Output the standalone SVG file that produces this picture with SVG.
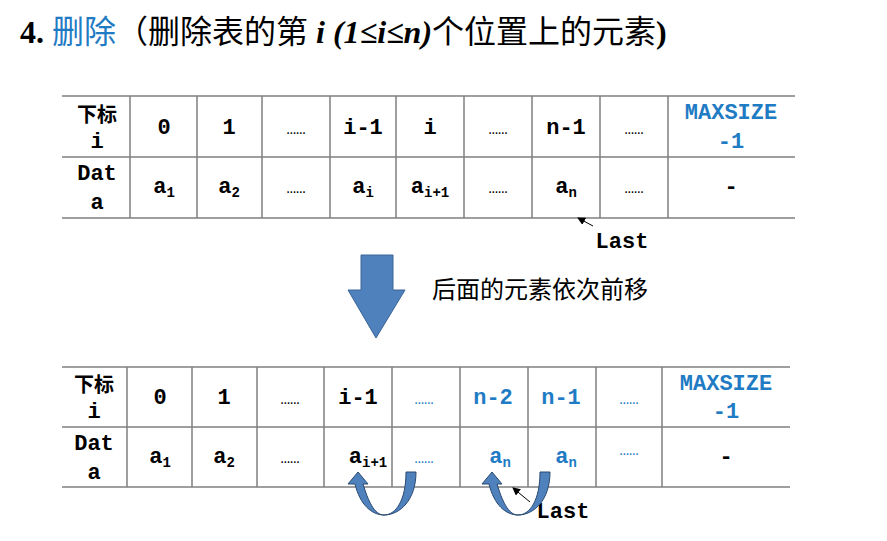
<svg xmlns="http://www.w3.org/2000/svg" width="887" height="541" viewBox="0 0 887 541">
<style>
.ln{stroke:#808080;stroke-width:1.5;fill:none}
.t{font-family:"Liberation Mono",monospace;font-weight:bold;font-size:22px;text-anchor:middle;fill:#000}
.b{fill:#1F7CC4}
.s{font-size:14px}
.d{font-size:16px;font-weight:normal}
.cj{font-family:"Noto Sans CJK SC",sans-serif;font-weight:bold;font-size:20px;text-anchor:middle}
.u{fill:#4F81BD;stroke:#2b4a70;stroke-width:1}
</style>
<defs><marker id="ah" markerWidth="8" markerHeight="8" refX="7" refY="4" orient="auto"><path d="M0,0L8,4L0,8z" fill="#000"/></marker></defs>
<g id="title"><text x="20" y="43" font-family="Liberation Serif,'Noto Sans CJK SC',serif" font-size="32" font-weight="bold">4. <tspan fill="#1F7CC4" font-weight="normal" font-family="'Noto Sans CJK SC',sans-serif">删除</tspan><tspan font-family="'Noto Sans CJK SC',sans-serif" font-weight="normal">（删除表的第</tspan><tspan font-style="italic"> i (1≤i≤n)</tspan><tspan font-family="'Noto Sans CJK SC',sans-serif" font-weight="normal">个位置上的元素</tspan>)</text></g>
<g id="table1">
<path class="ln" d="M62,96H795M62,157H795M62,218H795M130,96V218M197,96V218M262,96V218M330,96V218M396,96V218M464,96V218M532,96V218M600,96V218M668,96V218"/>
<text class="cj" x="97" y="122">下标</text><text class="t" x="97" y="148">i</text>
<text class="t" x="164" y="134">0</text><text class="t" x="229" y="134">1</text><text class="t d" x="296" y="134">……</text><text class="t" x="363" y="134">i-1</text><text class="t" x="430" y="134">i</text><text class="t d" x="498" y="134">……</text><text class="t" x="566" y="134">n-1</text><text class="t d" x="634" y="134">……</text>
<text class="t b" x="731" y="119">MAXSIZE</text><text class="t b" x="731" y="148">-1</text>
<text class="t" x="97" y="180">Dat</text><text class="t" x="97" y="209">a</text>
<text class="t" x="164" y="193">a<tspan class="s" dy="4">1</tspan></text><text class="t" x="229" y="193">a<tspan class="s" dy="4">2</tspan></text><text class="t d" x="296" y="193">……</text><text class="t" x="363" y="193">a<tspan class="s" dy="4">i</tspan></text><text class="t" x="430" y="193">a<tspan class="s" dy="4">i+1</tspan></text><text class="t d" x="498" y="193">……</text><text class="t" x="566" y="193">a<tspan class="s" dy="4">n</tspan></text><text class="t d" x="634" y="193">……</text><text class="t" x="731" y="193">-</text>
<text class="t" x="622" y="248" font-size="20">Last</text>
</g>
<g id="arrow"><path d="M361,255H393V290H405L376,338L348,290H361Z" fill="#4F81BD" stroke="#3a6496"/>
<text x="432" y="298" font-family="'Noto Sans CJK SC',sans-serif" font-size="24">后面的元素依次前移</text></g>
<g id="table2">
<path class="ln" d="M62,367H790M62,427H790M62,487H790M127,367V487M192,367V487M257,367V487M324,367V487M392,367V487M460,367V487M528,367V487M596,367V487M662,367V487"/>
<text class="cj" x="94" y="392">下标</text><text class="t" x="94" y="418">i</text>
<text class="t" x="160" y="404">0</text><text class="t" x="224" y="404">1</text><text class="t d" x="290" y="404">……</text><text class="t" x="358" y="404">i-1</text><text class="t b d" x="424" y="404">……</text><text class="t b" x="493" y="404">n-2</text><text class="t b" x="561" y="404">n-1</text><text class="t b d" x="629" y="404">……</text>
<text class="t b" x="726" y="390">MAXSIZE</text><text class="t b" x="726" y="418">-1</text>
<text class="t" x="94" y="450">Dat</text><text class="t" x="94" y="479">a</text>
<text class="t" x="160" y="463">a<tspan class="s" dy="4">1</tspan></text><text class="t" x="224" y="463">a<tspan class="s" dy="4">2</tspan></text><text class="t d" x="290" y="463">……</text><text class="t" x="368" y="463">a<tspan class="s" dy="4">i+1</tspan></text><text class="t b d" x="424" y="463">……</text><text class="t b" x="500" y="463">a<tspan class="s" dy="4">n</tspan></text><text class="t b" x="566" y="463">a<tspan class="s" dy="4">n</tspan></text><text class="t b d" x="629" y="455">……</text><text class="t" x="726" y="463">-</text>
<text class="t" x="563" y="518" font-size="20">Last</text>
</g>
<g id="connectors">
<path d="M593,226L578,218" stroke="#000" stroke-width="1" marker-end="url(#ah)"/>
<path d="M530,502L513,488" stroke="#000" stroke-width="1" marker-end="url(#ah)"/>
<path class="u" d="M406,472H416C416,500 400,515 384,515C374,515 368,500 363,484H368L358,472L348,484H355C360,505 372,515 384,515C396,515 406,500 406,472Z"/>
<path class="u" d="M540,472H550C550,500 534,515 518,515C508,515 502,500 497,484H502L492,472L482,484H489C494,505 506,515 518,515C530,515 540,500 540,472Z"/>
</g>
</svg>
